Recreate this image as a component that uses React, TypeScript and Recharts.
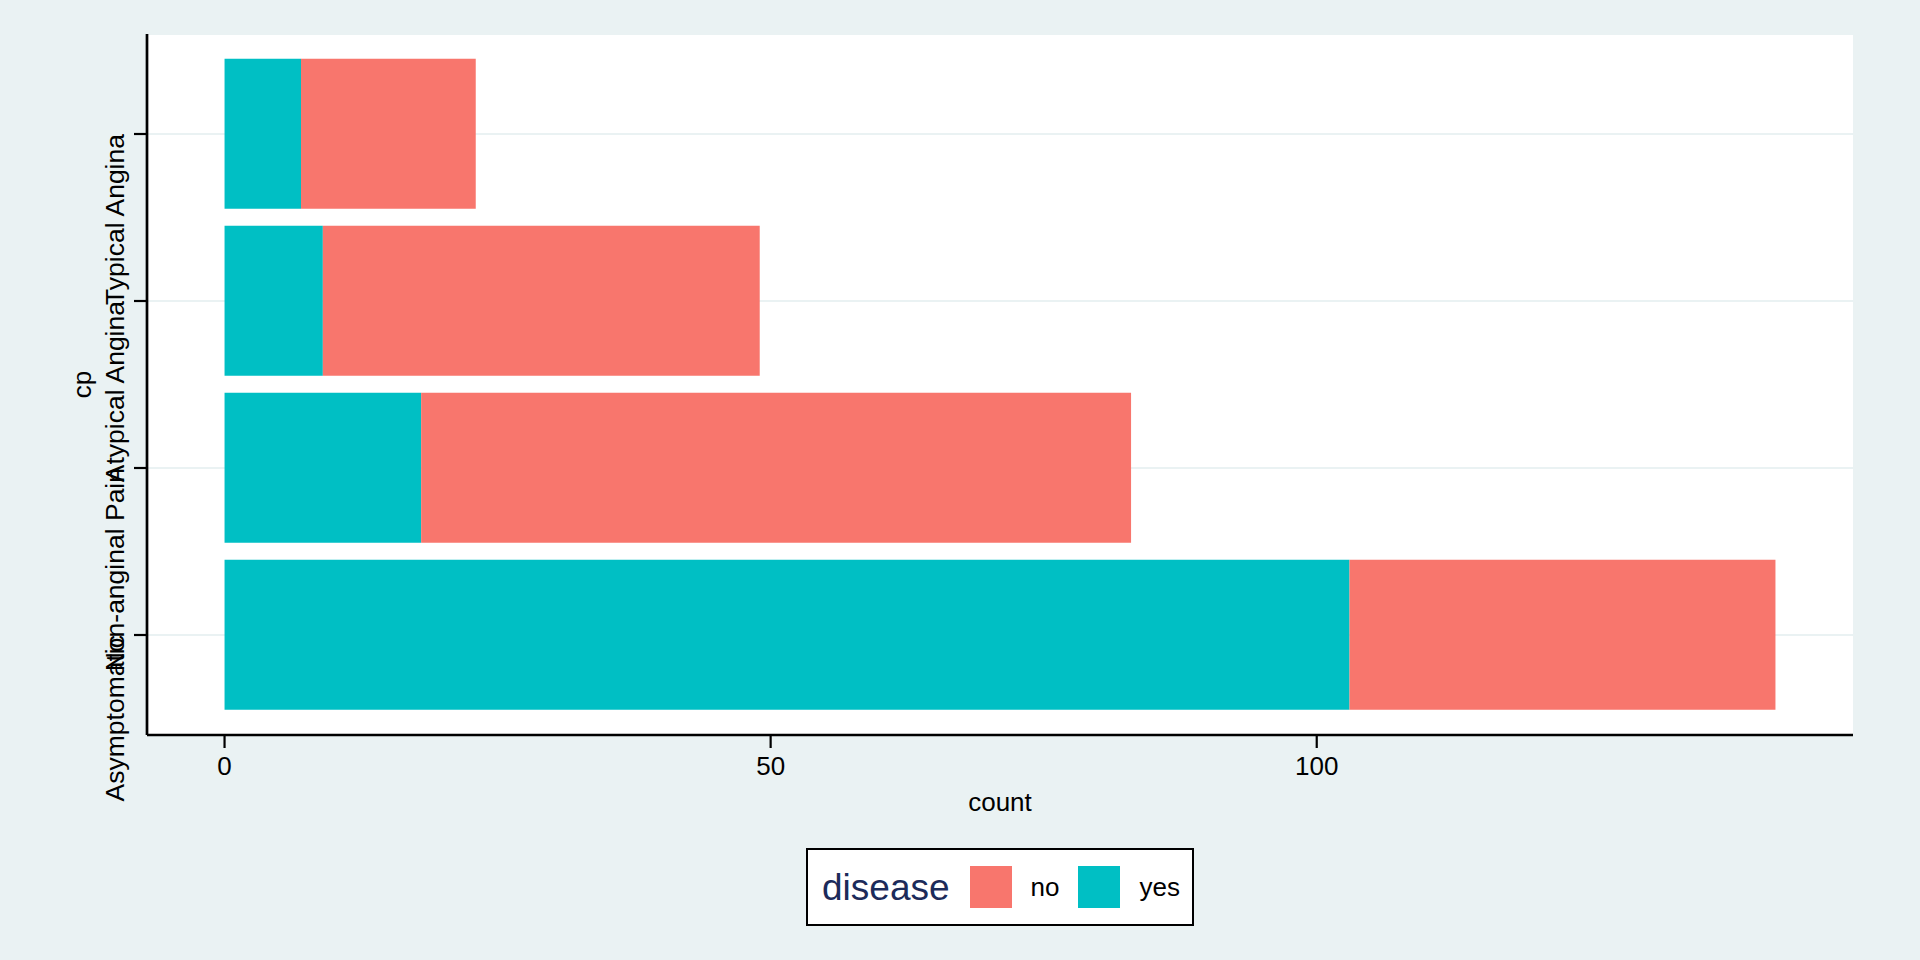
import { BarChart, Bar, XAxis, YAxis, CartesianGrid } from 'recharts'

const CATEGORIES = ['Asymptomatic', 'Non-anginal Pain', 'Atypical Angina', 'Typical Angina']
const YES_COUNTS = [103, 18, 9, 7]
const NO_COUNTS = [39, 65, 40, 16]
const X_TICKS = [0, 50, 100]

const SERIES = [
  { key: 'no', label: 'no', color: '#F8766D' },
  { key: 'yes', label: 'yes', color: '#00BFC4' },
]

const BG = '#EAF2F3'
const FONT = '"Liberation Sans", Arial, Helvetica, sans-serif'

const data = CATEGORIES.map((cp, i) => ({
  cp,
  yes: YES_COUNTS[i],
  no: NO_COUNTS[i],
}))

function YTick(props: any) {
  const { x, y, payload } = props
  return (
    <text
      x={x}
      y={y}
      transform={`rotate(-90 ${x} ${y})`}
      textAnchor="end"
      fontSize={26.5}
      fontFamily={FONT}
      fill="#000"
    >
      {payload.value}
    </text>
  )
}

function XTitle(props: any) {
  const vb = props.viewBox
  return (
    <text
      x={vb.x + vb.width / 2}
      y={vb.y + 76}
      textAnchor="middle"
      fontSize={26}
      fontFamily={FONT}
      fill="#000"
    >
      count
    </text>
  )
}

function YTitle(props: any) {
  const vb = props.viewBox
  const cx = 91
  const cy = vb.y + vb.height / 2
  return (
    <text
      x={cx}
      y={cy}
      transform={`rotate(-90 ${cx} ${cy})`}
      textAnchor="middle"
      fontSize={26}
      fontFamily={FONT}
      fill="#000"
    >
      cp
    </text>
  )
}

function DiseaseLegend() {
  return (
    <div
      style={{
        position: 'absolute',
        left: 806,
        top: 848,
        width: 388,
        height: 78,
        boxSizing: 'border-box',
        border: '2px solid #000',
        background: '#fff',
        display: 'flex',
        alignItems: 'center',
        paddingLeft: 14,
        fontFamily: FONT,
      }}
    >
      <span style={{ fontSize: 37, color: '#1c2b5a', marginRight: 20, lineHeight: 1 }}>
        disease
      </span>
      {SERIES.map(s => (
        <div key={s.key} style={{ display: 'flex', alignItems: 'center' }}>
          <span
            style={{
              display: 'inline-block',
              width: 42,
              height: 42,
              background: s.color,
            }}
          />
          <span style={{ fontSize: 26, color: '#000', marginLeft: 19, marginRight: 19 }}>
            {s.label}
          </span>
        </div>
      ))}
    </div>
  )
}

export default function App() {
  return (
    <div
      style={{
        position: 'absolute',
        left: 0,
        top: 0,
        width: 1920,
        height: 960,
        background: BG,
      }}
    >
      <BarChart
        width={1920}
        height={960}
        data={data}
        layout="vertical"
        barCategoryGap="5%"
        margin={{ top: 34, right: 67, left: 87, bottom: 165 }}
      >
        <CartesianGrid
          vertical={false}
          stroke={BG}
          strokeWidth={2}
          fill="#ffffff"
          fillOpacity={1}
        />
        <XAxis
          type="number"
          domain={[-7.1, 149.1]}
          ticks={X_TICKS}
          height={60}
          tickSize={13}
          tickMargin={9}
          axisLine={{ stroke: '#000', strokeWidth: 2.7 }}
          tickLine={{ stroke: '#000', strokeWidth: 2.2 }}
          tick={{ fontSize: 26, fill: '#000', fontFamily: FONT }}
          label={<XTitle />}
        />
        <YAxis
          type="category"
          dataKey="cp"
          reversed
          width={60}
          padding={{ top: 16.5, bottom: 16.5 }}
          tickSize={13}
          tickMargin={10}
          axisLine={{ stroke: '#000', strokeWidth: 2.7 }}
          tickLine={{ stroke: '#000', strokeWidth: 2.2 }}
          tick={<YTick />}
          interval={0}
          label={<YTitle />}
        />
        <Bar dataKey="yes" stackId="cp" fill="#00BFC4" isAnimationActive={false} />
        <Bar dataKey="no" stackId="cp" fill="#F8766D" isAnimationActive={false} />
      </BarChart>
      <DiseaseLegend />
    </div>
  )
}
